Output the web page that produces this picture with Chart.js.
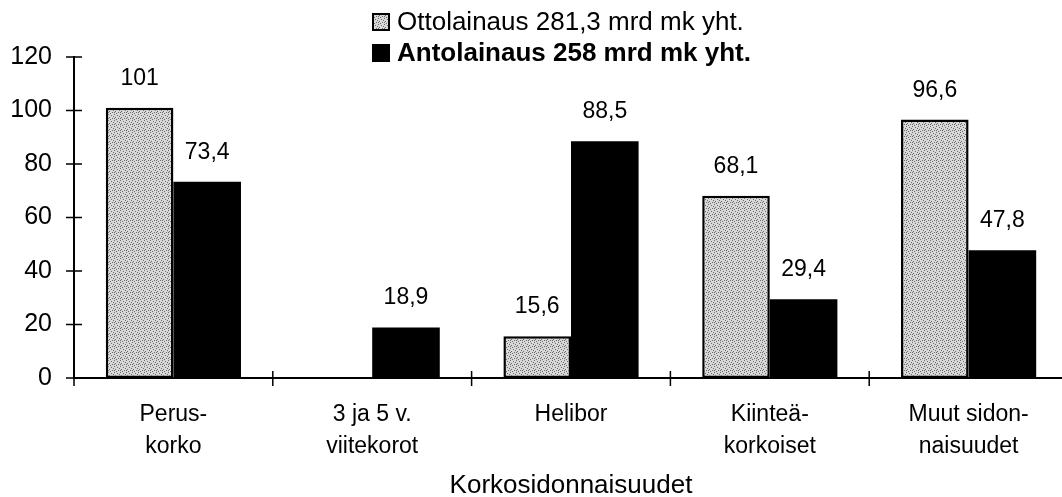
<!DOCTYPE html>
<html>
<head>
<meta charset="utf-8">
<script src="https://cdn.jsdelivr.net/npm/chart.js@4.4.1/dist/chart.umd.min.js"></script>
<style>
  body { margin: 0; background: #fff; overflow: hidden; }
  #wrap { position: relative; width: 1070px; height: 497px; }
</style>
</head>
<body>
<div id="wrap"><canvas id="myChart"></canvas></div>
<script>
'use strict';

// data
let categories = [['Perus-', 'korko'], ['3 ja 5 v.', 'viitekorot'], ['Helibor'], ['Kiinteä-', 'korkoiset'], ['Muut sidon-', 'naisuudet']];
let seriesNames = ['Ottolainaus 281,3 mrd mk yht.', 'Antolainaus 258 mrd mk yht.'];
let ottoValues = [101, null, 15.6, 68.1, 96.6];
let antoValues = [73.4, 18.9, 88.5, 29.4, 47.8];
let yTicks = [0, 20, 40, 60, 80, 100, 120];
let axisTitle = 'Korkosidonnaisuudet';

const FONT = 'Liberation Sans, Arial, Helvetica, sans-serif';

// stippled grey fill like the print
function makeStipple(){
    let c = document.createElement('canvas');
    c.width = 6; c.height = 6;
    let g = c.getContext('2d');
    g.fillStyle = '#d8d8d8';
    g.fillRect(0, 0, 6, 6);
    g.fillStyle = '#6a6a6a';
    let dots = [[0,0],[3,1],[1,3],[4,4],[2,5],[5,2],[0,4]];
    for(let i = 0; i < dots.length; i++){
        g.fillRect(dots[i][0], dots[i][1], 1, 1);
    }
    return g.createPattern(c, 'repeat');
}
let stipple = makeStipple();

function fmt(v){
    return String(v).replace('.', ',');
}

// value labels above each bar
const valueLabels = {
    id: 'valueLabels',
    afterDatasetsDraw(chart){
        let ctx = chart.ctx;
        ctx.save();
        ctx.font = '23px ' + FONT;
        ctx.fillStyle = '#000';
        ctx.textAlign = 'center';
        ctx.textBaseline = 'alphabetic';
        chart.data.datasets.forEach((ds, i) => {
            let meta = chart.getDatasetMeta(i);
            meta.data.forEach((bar, j) => {
                if(ds.data[j] === null) return;
                ctx.fillText(fmt(ds.data[j]), bar.x, bar.y - 23);
            });
        });
        ctx.restore();
    }
};

// tick marks crossing both axes
const crossTicks = {
    id: 'crossTicks',
    afterDraw(chart){
        let ctx = chart.ctx;
        let x = chart.scales.x, y = chart.scales.y;
        ctx.save();
        ctx.strokeStyle = '#000';
        ctx.lineWidth = 1.5;
        ctx.beginPath();
        yTicks.forEach(t => {
            let py = y.getPixelForValue(t);
            ctx.moveTo(x.left - 8, py);
            ctx.lineTo(x.left + 8, py);
        });
        for(let i = 0; i <= categories.length; i++){
            let px = x.left + (x.right - x.left) * i / categories.length;
            ctx.moveTo(px, y.bottom - 7);
            ctx.lineTo(px, y.bottom + 8);
        }
        ctx.stroke();
        ctx.restore();
    }
};

// legend at the top, second entry in bold
const topLegend = {
    id: 'topLegend',
    afterDraw(chart){
        let ctx = chart.ctx;
        ctx.save();
        let bx = 372, rows = [22, 53];
        chart.data.datasets.forEach((ds, i) => {
            let cy = rows[i];
            ctx.fillStyle = ds.backgroundColor;
            ctx.fillRect(bx, cy - 9, 18, 18);
            ctx.strokeStyle = '#000';
            ctx.lineWidth = 2;
            ctx.strokeRect(bx + 1, cy - 8, 16, 16);
            ctx.fillStyle = '#000';
            ctx.font = (i === 1 ? 'bold ' : '') + '26px ' + FONT;
            ctx.textAlign = 'left';
            ctx.textBaseline = 'middle';
            ctx.fillText(ds.label, bx + 25, cy + 1);
        });
        ctx.restore();
    }
};

let ctx = document.getElementById('myChart').getContext('2d');
let chart = new Chart(ctx, {
    type: 'bar',
    data: {
        labels: categories,
        datasets: [{
            label: seriesNames[0],
            data: ottoValues,
            backgroundColor: stipple,
            borderColor: '#000',
            borderWidth: 2.5,
            borderSkipped: false
        },{
            label: seriesNames[1],
            data: antoValues,
            backgroundColor: '#000',
            borderWidth: 0
        }]
    },
    options: {
        responsive: true,
        maintainAspectRatio: false,
        animation: false,
        layout: { padding: { top: 57, right: 2, left: 0, bottom: 0 } },
        plugins: {
            legend: { display: false },
            tooltip: { enabled: false }
        },
        datasets: {
            bar: { categoryPercentage: 0.68, barPercentage: 1 }
        },
        scales: {
            x: {
                grid: { display: false, drawTicks: false },
                border: { color: '#000', width: 2 },
                ticks: {
                    color: '#000',
                    font: { family: FONT, size: 23, lineHeight: 1.39 },
                    padding: 21,
                    maxRotation: 0
                },
                title: {
                    display: true,
                    text: axisTitle,
                    color: '#000',
                    font: { family: FONT, size: 26, lineHeight: 0.85 },
                    padding: { top: 0, bottom: 0 }
                },
                afterFit(scale){ scale.height = 119; }
            },
            y: {
                min: 0,
                max: 120,
                afterBuildTicks(scale){ scale.ticks = yTicks.map(v => ({ value: v })); },
                grid: { display: false, drawTicks: false },
                border: { color: '#000', width: 2 },
                ticks: {
                    color: '#000',
                    font: { family: FONT, size: 25 },
                    padding: 22
                },
                afterFit(scale){ scale.width = 74; }
            }
        }
    },
    plugins: [valueLabels, crossTicks, topLegend]
});
</script>
</body>
</html>
